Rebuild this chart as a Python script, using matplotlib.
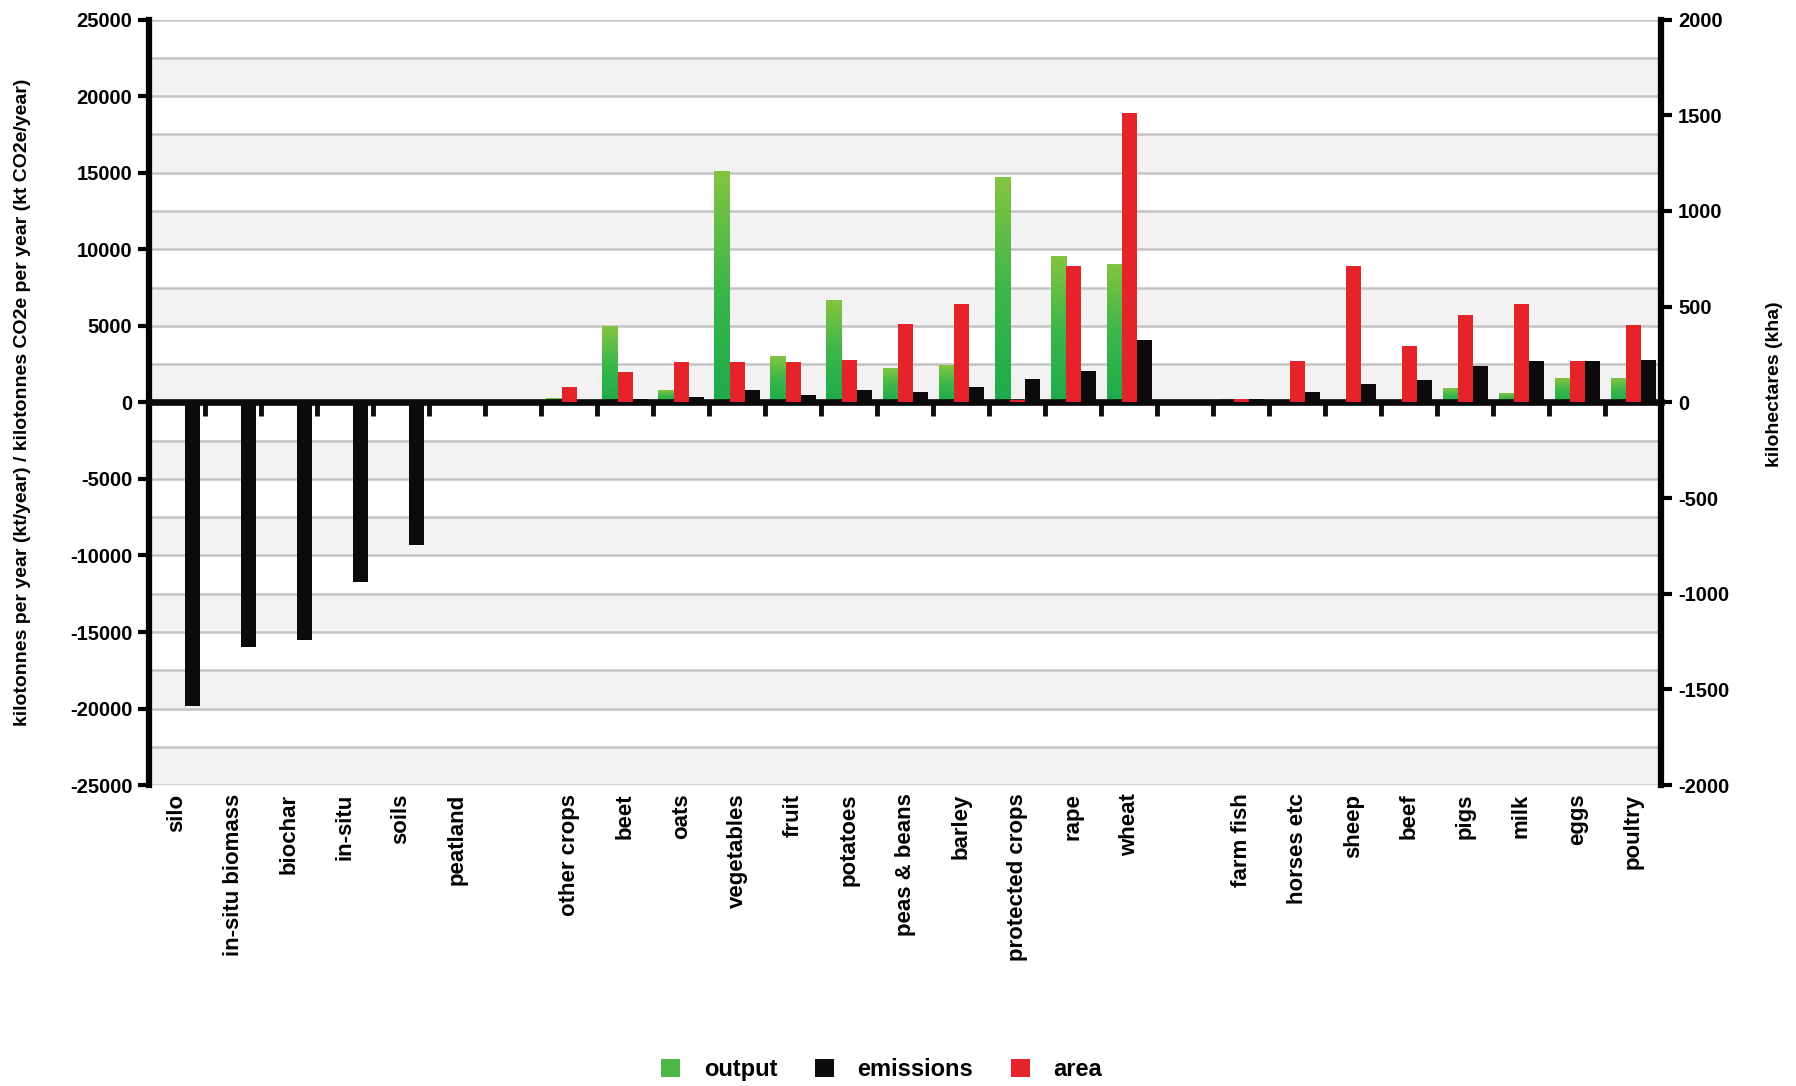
import numpy as np
import matplotlib
matplotlib.use("Agg")
import matplotlib.pyplot as plt
from matplotlib.colors import LinearSegmentedColormap

plt.rcParams["font.family"] = ["Liberation Sans", "DejaVu Sans"]
plt.rcParams["font.weight"] = "bold"
plt.rcParams["axes.unicode_minus"] = False

# categories, in three groups separated by an empty slot
removals = ["silo", "in-situ biomass", "biochar", "in-situ", "soils", "peatland"]
crops = ["other crops", "beet", "oats", "vegetables", "fruit", "potatoes",
         "peas & beans", "barley", "protected crops", "rape", "wheat"]
livestock = ["farm fish", "horses etc", "sheep", "beef", "pigs", "milk", "eggs", "poultry"]

# kt/year
output = [0, 0, 0, 0, 0, 0,
          200, 4900, 780, 15050, 2960, 6600, 2180, 2400, 14650, 9500, 9000,
          150, 120, 120, 120, 880, 550, 1540, 1540]
# kt CO2e/year
emissions = [-19800, -16000, -15500, -11700, -9300, 0,
             60, 250, 330, 780, 500, 830, 650, 980, 1550, 2030, 4100,
             250, 660, 1200, 1430, 2350, 2700, 2700, 2790]
# kha
area = [0, 0, 0, 0, 0, 0,
        82, 160, 210, 210, 210, 222, 410, 515, 12, 712, 1513,
        18, 216, 714, 293, 456, 514, 216, 403]

GREEN = "#4db748"
BLACK = "#0b0b0b"
RED = "#e4242a"
BAND = "#f3f2f2"
GRID = "#c4c4c4"

labels = removals + crops + livestock
pos = np.concatenate([np.arange(len(removals)),
                      np.arange(len(crops)) + len(removals) + 1,
                      np.arange(len(livestock)) + len(removals) + len(crops) + 2])
n_slots = len(labels) + 2

fig = plt.figure(figsize=(17.96, 10.86), dpi=100)
ax = fig.add_axes([0.083, 0.277, 0.842, 0.705])
ax2 = ax.twinx()

# alternating background bands
for lo in range(-25000, 25000, 5000):
    ax.axhspan(lo, lo + 2500, color=BAND, zorder=0, lw=0)

w = 0.27
g_bars = ax.bar(pos - w, output, w, color=GREEN, zorder=3)
e_bars = ax.bar(pos + w, emissions, w, color=BLACK, zorder=3)
a_bars = ax2.bar(pos, area, w, color=RED, zorder=3)

# vertical gradient on the output bars
cmap = LinearSegmentedColormap.from_list("grn", ["#1dab4c", "#3db64a", "#84c441"])
grad = np.linspace(0, 1, 256).reshape(-1, 1)
for r in g_bars:
    if r.get_height() > 0:
        ax.imshow(grad, extent=[r.get_x(), r.get_x() + r.get_width(), 0, r.get_height()],
                  origin="lower", aspect="auto", cmap=cmap, zorder=3.5)

ax.set_xlim(-0.5, n_slots - 0.5)
ax.set_ylim(-25000, 25000)
ax2.set_ylim(-2000, 2000)

ax.set_yticks(np.arange(-25000, 25001, 5000))
ax.set_yticks(np.arange(-22500, 25000, 5000), minor=True)
ax.grid(True, which="both", axis="y", color=GRID, lw=1.8, zorder=1)
ax.set_axisbelow(True)
ax.tick_params(axis="y", which="major", direction="out", length=8, width=3,
               labelsize=14.5, pad=4)
ax.tick_params(axis="y", which="minor", length=0)
ax2.set_yticks(np.arange(-2000, 2001, 500))
ax2.tick_params(axis="y", direction="out", length=8, width=3, labelsize=14.5, pad=4)

ax.set_xticks(pos, labels, rotation=90, fontsize=16, fontweight="bold")
ax.tick_params(axis="x", length=0, pad=6)

for s in ["top", "bottom", "right"]:
    ax.spines[s].set_visible(False)
for s in ["top", "bottom", "left"]:
    ax2.spines[s].set_visible(False)
ax.spines["left"].set_linewidth(4.5)
ax2.spines["right"].set_linewidth(4.5)

# zero line with boundary ticks
sec = ax2.secondary_xaxis(0.5)
sec.xaxis.set_ticks_position("bottom")
sec.set_xticks(np.arange(0.5, n_slots - 1, 1.0))
sec.set_xticklabels([])
sec.tick_params(axis="x", direction="out", length=10, width=3.5, color=BLACK)
for s in ["top", "bottom"]:
    sec.spines[s].set_linewidth(4.8)
    sec.spines[s].set_color(BLACK)

ax.set_ylabel("kilotonnes per year (kt/year) / kilotonnes CO2e per year (kt CO2e/year)",
              fontsize=14, fontweight="bold")
ax.yaxis.set_label_coords(-0.078, 0.5)
ax2.set_ylabel("kilohectares (kha)", fontsize=14, fontweight="bold")
ax2.yaxis.set_label_coords(1.069, 0.524)

fig.legend([g_bars, e_bars, a_bars], ["output", "emissions", "area"],
           loc="center", bbox_to_anchor=(0.491, 0.015), ncol=3, frameon=False,
           prop={"size": 17, "weight": "bold"}, handlelength=0.8, handleheight=0.8,
           handletextpad=1.0, columnspacing=1.6)

fig.savefig("out.png", dpi=100)
